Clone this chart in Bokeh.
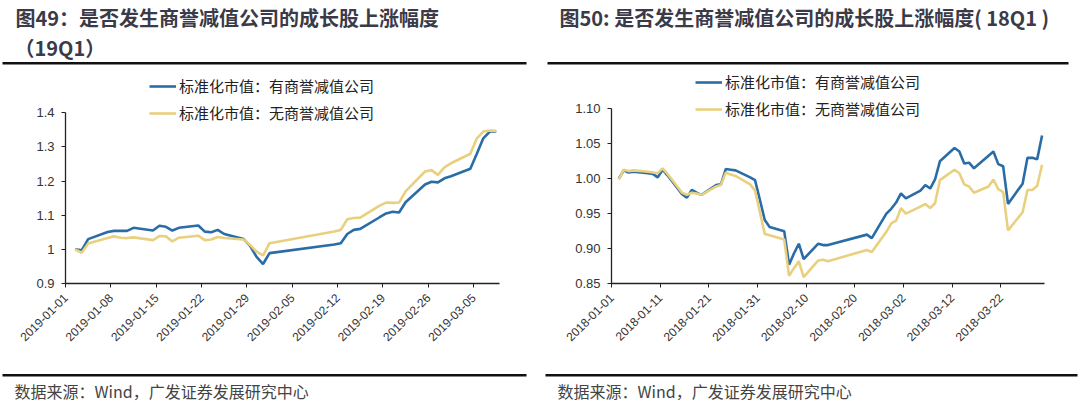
import math
import pandas as pd
from bokeh.plotting import figure
from bokeh.models import (Range1d, FixedTicker, DatetimeTickFormatter, PrintfTickFormatter,
                          Label, Legend, LegendItem)
from bokeh.layouts import row, column
from bokeh.embed import file_html
from bokeh.resources import INLINE

# ---------------- data ----------------
dates_19 = ["2019-01-02", "2019-01-03", "2019-01-04", "2019-01-07", "2019-01-08", "2019-01-09",
            "2019-01-10", "2019-01-11", "2019-01-14", "2019-01-15", "2019-01-16", "2019-01-17",
            "2019-01-18", "2019-01-21", "2019-01-22", "2019-01-23", "2019-01-24", "2019-01-25",
            "2019-01-28", "2019-01-29", "2019-01-30", "2019-01-31", "2019-02-01", "2019-02-11",
            "2019-02-12", "2019-02-13", "2019-02-14", "2019-02-15", "2019-02-18", "2019-02-19",
            "2019-02-20", "2019-02-21", "2019-02-22", "2019-02-25", "2019-02-26", "2019-02-27",
            "2019-02-28", "2019-03-01", "2019-03-04", "2019-03-05", "2019-03-06", "2019-03-07",
            "2019-03-08"]
has_19 = [1.000, 0.997, 1.030, 1.051, 1.054, 1.054, 1.054, 1.063, 1.055, 1.069, 1.066, 1.055,
          1.063, 1.070, 1.052, 1.050, 1.057, 1.045, 1.030, 1.010, 0.978, 0.957, 0.989, 1.014,
          1.018, 1.045, 1.057, 1.060, 1.094, 1.105, 1.110, 1.108, 1.138, 1.190, 1.198, 1.196,
          1.208, 1.214, 1.236, 1.280, 1.325, 1.345, 1.345]
no_19 = [1.000, 0.990, 1.017, 1.033, 1.038, 1.034, 1.033, 1.035, 1.027, 1.039, 1.038, 1.023,
         1.034, 1.040, 1.027, 1.029, 1.036, 1.033, 1.029, 1.013, 0.993, 0.982, 1.018, 1.052,
         1.057, 1.088, 1.092, 1.093, 1.128, 1.137, 1.136, 1.137, 1.170, 1.228, 1.232, 1.218,
         1.240, 1.252, 1.280, 1.325, 1.345, 1.348, 1.347]

dates_18 = ["2018-01-02", "2018-01-03", "2018-01-04", "2018-01-05", "2018-01-08", "2018-01-09",
            "2018-01-10", "2018-01-11", "2018-01-12", "2018-01-15", "2018-01-16", "2018-01-17",
            "2018-01-18", "2018-01-19", "2018-01-22", "2018-01-23", "2018-01-24", "2018-01-25",
            "2018-01-26", "2018-01-29", "2018-01-30", "2018-01-31", "2018-02-01", "2018-02-02",
            "2018-02-05", "2018-02-06", "2018-02-07", "2018-02-08", "2018-02-09", "2018-02-12",
            "2018-02-13", "2018-02-14", "2018-02-22", "2018-02-23", "2018-02-26", "2018-02-27",
            "2018-02-28", "2018-03-01", "2018-03-02", "2018-03-05", "2018-03-06", "2018-03-07",
            "2018-03-08", "2018-03-09", "2018-03-12", "2018-03-13", "2018-03-14", "2018-03-15",
            "2018-03-16", "2018-03-19", "2018-03-20", "2018-03-21", "2018-03-22", "2018-03-23",
            "2018-03-26", "2018-03-27", "2018-03-28", "2018-03-29", "2018-03-30"]
has_18 = [1.000, 1.012, 1.009, 1.010, 1.008, 1.007, 1.002, 1.013, 1.005, 0.978, 0.973, 0.984,
          0.980, 0.977, 0.991, 0.992, 1.014, 1.013, 1.012, 1.002, 0.998, 0.970, 0.941, 0.931,
          0.925, 0.877, 0.893, 0.907, 0.885, 0.907, 0.905, 0.905, 0.920, 0.915, 0.950, 0.957,
          0.966, 0.979, 0.972, 0.983, 0.991, 0.986, 0.999, 1.025, 1.044, 1.039, 1.022, 1.023,
          1.015, 1.033, 1.039, 1.021, 1.018, 0.964, 0.993, 1.030, 1.030, 1.028, 1.062]
no_18 = [0.999, 1.013, 1.011, 1.012, 1.010, 1.009, 1.008, 1.015, 1.007, 0.980, 0.977, 0.980,
         0.979, 0.977, 0.989, 0.991, 1.009, 1.006, 1.004, 0.992, 0.983, 0.952, 0.921, 0.919,
         0.913, 0.861, 0.872, 0.882, 0.859, 0.883, 0.884, 0.882, 0.898, 0.895, 0.924, 0.936,
         0.940, 0.958, 0.950, 0.960, 0.964, 0.958, 0.965, 0.998, 1.013, 1.008, 0.992, 0.989,
         0.980, 0.989, 0.999, 0.985, 0.981, 0.926, 0.952, 0.984, 0.984, 0.990, 1.020]

xticks_19 = ["2019-01-01", "2019-01-08", "2019-01-15", "2019-01-22", "2019-01-29",
             "2019-02-05", "2019-02-12", "2019-02-19", "2019-02-26", "2019-03-05"]
xticks_18 = ["2018-01-01", "2018-01-11", "2018-01-21", "2018-01-31", "2018-02-10",
             "2018-02-20", "2018-03-02", "2018-03-12", "2018-03-22"]
yticks_19 = [0.9, 1.0, 1.1, 1.2, 1.3, 1.4]
yticks_18 = [0.85, 0.90, 0.95, 1.00, 1.05, 1.10]

series_names = ["标准化市值：有商誉减值公司", "标准化市值：无商誉减值公司"]
title_49 = "图49：是否发生商誉减值公司的成长股上涨幅度"
title_49b = "（19Q1）"
title_50 = "图50: 是否发生商誉减值公司的成长股上涨幅度( 18Q1 )"
source_text = "数据来源：Wind，广发证券发展研究中心"

BLUE = "#2A6DA6"
GOLD = "#E9D07E"
TITLE_COLOR = "#3a3a48"
CJK = "Noto Sans CJK SC"

FULL_W = 1080
PW = 540          # width of each chart panel
HEAD_H = 70       # header strip (titles + rules)
CHART_H = 295     # chart strip
FOOT_H = 38       # footer strip (rules + source)


def ms(s):
    return pd.Timestamp(s).value / 1e6


def strip(h):
    """A blank full-width strip whose ranges are its own pixels (y measured downwards)."""
    s = figure(width=FULL_W, height=h, output_backend="svg", toolbar_location=None,
               x_range=Range1d(0, FULL_W), y_range=Range1d(0, h),
               min_border_left=0, min_border_right=0, min_border_top=0, min_border_bottom=0,
               x_axis_location=None, y_axis_location=None)
    s.outline_line_color = None
    s.grid.visible = False
    s.background_fill_color = "white"
    s.border_fill_color = "white"
    return s


def rules(s, h, segs):
    s.quad(left=[a[0] for a in segs], right=[a[1] for a in segs],
           top=[h - a[2] for a in segs], bottom=[h - a[3] for a in segs],
           fill_color="#111111", line_color=None)


def text(s, h, txt, x, y, size, bold, color):
    s.add_layout(Label(x=x, y=h - y, text=txt, text_font=CJK, text_font_size=size,
                       text_font_style="bold" if bold else "normal", text_color=color,
                       text_baseline="middle", text_align="left"))


def chart(dates, has, no, xstart, xend, ylo, yhi, ytop, yticks, yfmt, xticks, fl, fr, fb,
          leg_x, leg_bottom):
    p = figure(width=PW, height=CHART_H, output_backend="svg", toolbar_location=None,
               x_axis_type="datetime",
               x_range=Range1d(ms(xstart), ms(xend)), y_range=Range1d(ylo, ytop),
               min_border_left=fl, min_border_right=PW - fr,
               min_border_top=0, min_border_bottom=CHART_H - fb)
    p.background_fill_color = "white"
    p.border_fill_color = "white"
    p.outline_line_color = None
    p.grid.visible = False

    x = pd.to_datetime(pd.Series(dates)) + pd.Timedelta(hours=12)
    r1 = p.line(x, has, line_color=BLUE, line_width=2.6)
    r2 = p.line(x, no, line_color=GOLD, line_width=2.6)

    p.xaxis.ticker = FixedTicker(ticks=[ms(t) for t in xticks])
    fmt = "%Y-%m-%d"
    p.xaxis.formatter = DatetimeTickFormatter(days=fmt, months=fmt, years=fmt, hours=fmt,
                                              hourmin=fmt, minutes=fmt, minsec=fmt,
                                              seconds=fmt, milliseconds=fmt, microseconds=fmt)
    p.xaxis.major_label_orientation = math.pi / 4
    p.yaxis.ticker = FixedTicker(ticks=yticks)
    p.yaxis.formatter = PrintfTickFormatter(format=yfmt)
    p.yaxis.bounds = (ylo, yhi)
    for ax in (p.xaxis[0], p.yaxis[0]):
        ax.axis_line_color = "#222222"
        ax.axis_line_width = 1.3
        ax.major_tick_line_color = "#222222"
        ax.major_tick_out = 4
        ax.major_tick_in = 0
        ax.minor_tick_out = 0
        ax.minor_tick_in = 0
        ax.major_label_text_font = "Liberation Sans"
        ax.major_label_text_color = "#333333"
    p.yaxis.major_label_text_font_size = "13px"
    p.yaxis.major_label_standoff = 7
    p.xaxis.major_label_text_font_size = "12px"
    p.xaxis.major_label_standoff = 8

    leg = Legend(items=[LegendItem(label=series_names[0], renderers=[r1]),
                        LegendItem(label=series_names[1], renderers=[r2])],
                 location=(leg_x, fb - leg_bottom), orientation="vertical",
                 padding=0, margin=0, spacing=6, glyph_width=27, glyph_height=20,
                 label_height=20, label_standoff=3,
                 label_text_font=CJK, label_text_font_size="15px",
                 label_text_color="#222222",
                 border_line_alpha=0, background_fill_alpha=0)
    p.add_layout(leg, "center")
    return p


# ---------- header: both titles and the upper rules ----------
head = strip(HEAD_H)
text(head, HEAD_H, title_49, 15, 17, "20px", True, TITLE_COLOR)
text(head, HEAD_H, title_49b, 14, 47, "20px", True, TITLE_COLOR)
text(head, HEAD_H, title_50, 559, 17, "20px", True, TITLE_COLOR)
rules(head, HEAD_H, [(2, 526, 61.5, 64), (547, 1068, 61.5, 64)])

# ---------- charts ----------
# left frame: x 65..499, y 70..283 in page pixels; 1.4 sits at page y 112
c1 = chart(dates_19, has_19, no_19, "2019-01-01", "2019-03-09", 0.9, 1.4,
           1.4 + (112.3 - HEAD_H) / 342.0, yticks_19, "%g", xticks_19,
           65, 499, 283 - HEAD_H, 84, 123 - HEAD_H)
# right frame: x 611..1044, y 70..286; 1.10 sits at page y 109
c2 = chart(dates_18, has_18, no_18, "2018-01-01", "2018-03-31", 0.85, 1.10,
           1.10 + (109.0 - HEAD_H) / 708.0, yticks_18, "%.2f", xticks_18,
           71, 504, 286 - HEAD_H, 84, 122 - HEAD_H)

# ---------- footer: lower rules and sources ----------
foot = strip(FOOT_H)
rules(foot, FOOT_H, [(2, 526, 8.5, 11), (545, 1077, 8.5, 11)])
text(foot, FOOT_H, source_text, 14, 25, "16px", False, "#444444")
text(foot, FOOT_H, source_text, 557, 25, "16px", False, "#444444")

layout = column(head, row(c1, c2), foot)
open("out.html", "w").write(file_html(layout, INLINE))
